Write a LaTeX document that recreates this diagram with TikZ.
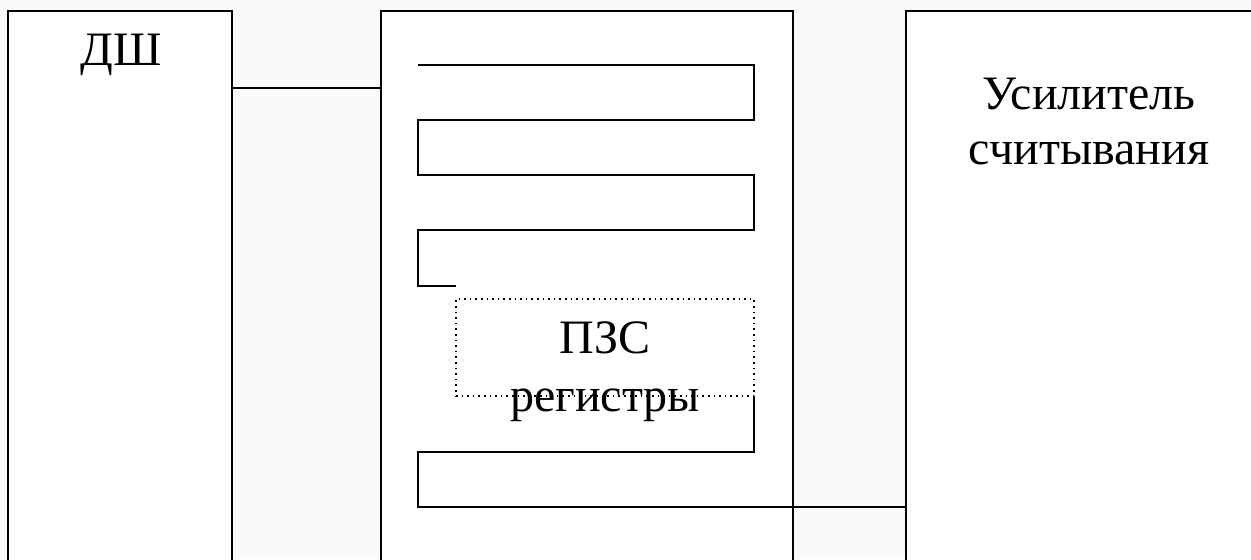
\documentclass[tikz,border=0pt]{standalone}
\usepackage{fontspec}
\setmainfont{Liberation Serif}
\definecolor{paper}{RGB}{249,251,249}
\begin{document}
\begin{tikzpicture}[x=0.5pt,y=-0.5pt,
  block/.style={draw, line width=1pt, fill=white, rectangle, anchor=north west,
    minimum height=320pt, inner sep=0pt, outer sep=0pt},
  wire/.style={line width=1pt},
  regbox/.style={draw, line width=0.8pt, dash pattern=on 0.8pt off 2pt,
    rectangle, anchor=north west, inner sep=0pt, outer sep=0pt},
  caption/.style={font=\fontsize{24}{29}\selectfont, align=center, inner sep=0pt}
]
  \fill[paper] (0,0) rectangle (1251,559);
  \useasboundingbox (0,0) rectangle (1251,559);
  \begin{scope}
    \clip (0,0) rectangle (1251,559);
    % three blocks: line driver, CCD area, sense amplifier
    \node[block, minimum width=112pt] (dsh) at (8,11) {};
    \node[block, minimum width=206pt] (ccd) at (381,11) {};
    \node[block, minimum width=200pt] (amp) at (906,11) {};
  \end{scope}

  \node[caption] (dshlabel) at (121,55) {ДШ};
  \node[caption, font=\fontsize{24}{27.5}\selectfont] (amplabel) at (1089,122) {Усилитель\\считывания};

  % dotted register window
  \node[regbox, minimum width=149pt, minimum height=48.5pt] (reg) at (456,299) {};
  \node[caption] (reglabel) at (605,372) {ПЗС\\регистры};

  % driver to CCD
  \coordinate (busy) at (0,88);
  \draw[wire] (dsh.east |- busy) -- (ccd.west |- busy);

  % meandering channel, upper part
  \coordinate (m0) at (418,65);
  \coordinate (m1) at (456,286);
  \draw[wire] (m0) -- (754,65) -- (754,120) -- (418,120) -- (418,175)
    -- (754,175) -- (754,230) -- (418,230) -- (418,286) -- (m1);

  % meandering channel, lower part to the amplifier
  \coordinate (outy) at (0,507);
  \draw[wire] (reg.south east) -- (754,452) -- (418,452) -- (418,507)
    -- (amp.west |- outy);
\end{tikzpicture}
\end{document}
